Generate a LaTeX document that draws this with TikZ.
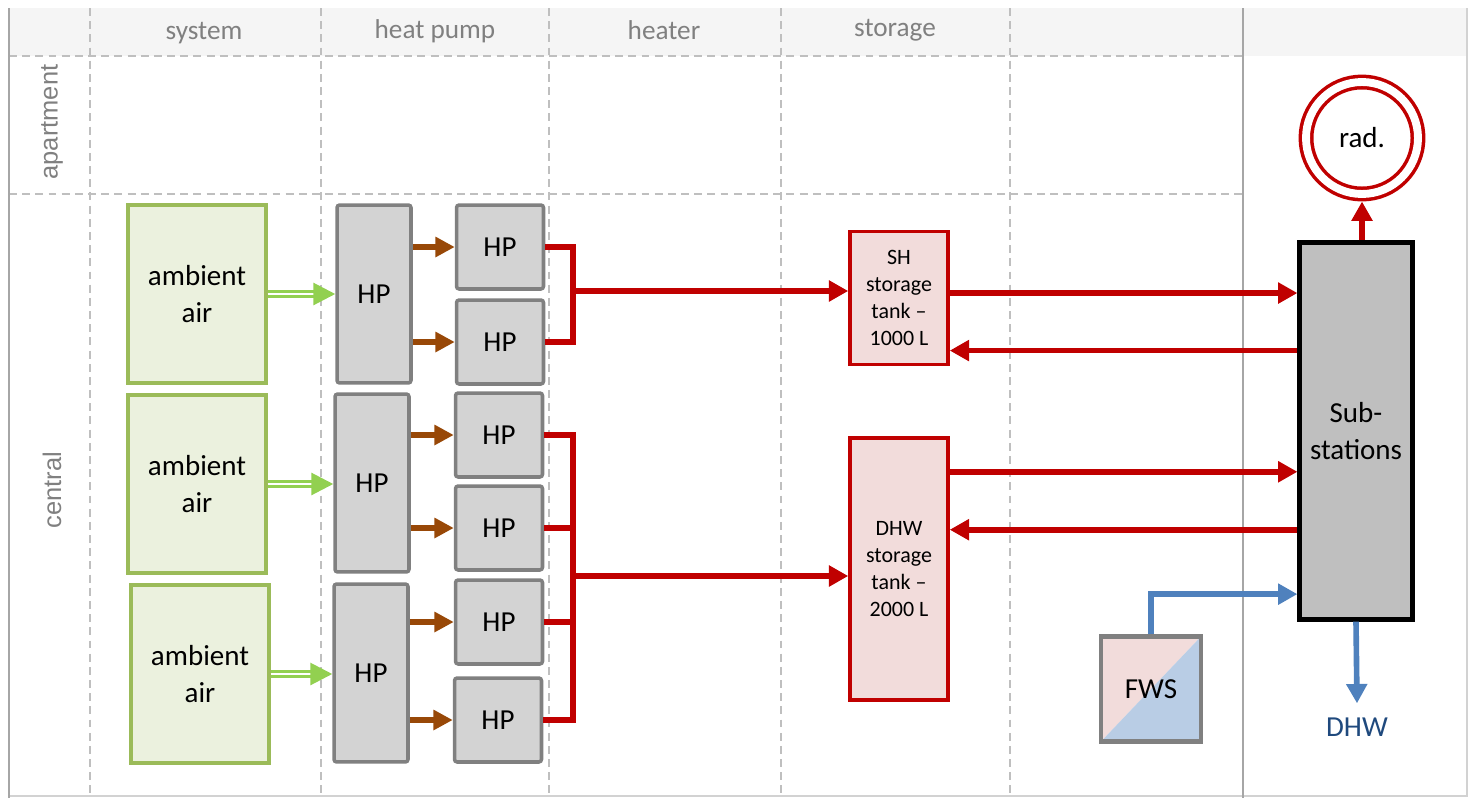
\documentclass[tikz,border=0pt]{standalone}
\usepackage{fontspec}
\setmainfont{Carlito}
\newfontfamily\rowfont{Liberation Sans}
\usetikzlibrary{arrows.meta,calc}

\definecolor{hdrgray}{HTML}{F5F5F5}
\definecolor{gridgray}{HTML}{BFBFBF}
\definecolor{framegray}{HTML}{A6A6A6}
\definecolor{txtgray}{HTML}{808080}
\definecolor{airgreen}{HTML}{9BBB59}
\definecolor{airfill}{HTML}{EBF1DE}
\definecolor{arrgreen}{HTML}{92D050}
\definecolor{hpfill}{HTML}{D3D3D3}
\definecolor{hpline}{HTML}{808080}
\definecolor{hpbrown}{HTML}{984807}
\definecolor{hotred}{HTML}{C00000}
\definecolor{tankfill}{HTML}{F2DCDB}
\definecolor{subfill}{HTML}{BFBFBF}
\definecolor{coldblue}{HTML}{4F81BD}
\definecolor{fwsblue}{HTML}{B9CDE5}
\definecolor{dhwtext}{HTML}{1F497D}

\begin{document}
\begin{tikzpicture}[x=0.02cm,y=-0.02cm,
  font=\fontsize{16.5}{21}\selectfont,
  grid/.style={gridgray,line width=0.6pt,dash pattern=on 4.5pt off 3pt},
  frame/.style={framegray,line width=1.6pt},
  hdr/.style={txtgray,font=\fontsize{15.5}{18}\selectfont},
  row/.style={txtgray,rotate=90,font=\rowfont\fontsize{14.5}{17}\selectfont},
  air/.style={draw=airgreen,fill=airfill,line width=2pt,minimum width=2.76cm,
    minimum height=3.56cm,align=center},
  hpbig/.style={draw=hpline,fill=hpfill,line width=2pt,rounded corners=1.5pt,
    minimum width=1.48cm,minimum height=3.56cm},
  hpsmall/.style={hpbig,minimum width=1.74cm,minimum height=1.68cm},
  tank/.style={draw=hotred,fill=tankfill,line width=2pt,minimum width=1.96cm,
    align=center,font=\fontsize{12.5}{15.4}\selectfont},
  subbox/.style={draw=black,fill=subfill,line width=2.4pt,minimum width=2.26cm,
    minimum height=7.54cm,align=center},
  radnode/.style={circle,draw=hotred,line width=2pt,double=white,
    double distance=4.5pt,minimum size=2.24cm,inner sep=0pt,outer sep=4.3pt},
  fwsbox/.style={draw=hpline,line width=2.3pt,minimum width=2cm,minimum height=2.1cm,
    path picture={
      \fill[tankfill] (path picture bounding box.south west)
        -- (path picture bounding box.north west)
        -- (path picture bounding box.north east) -- cycle;
      \fill[fwsblue] (path picture bounding box.south west)
        -- (path picture bounding box.south east)
        -- (path picture bounding box.north east) -- cycle;}},
  dhwlbl/.style={dhwtext,inner sep=8pt},
  greenarr/.style={arrgreen,double=white,double distance=1.3pt,line width=1.7pt,
    -{Triangle[length=12.5pt,width=12.5pt]}},
  brownarr/.style={hpbrown,line width=3.2pt,-{Triangle[length=11pt,width=11pt]}},
  redline/.style={hotred,line width=3.3pt},
  redarr/.style={redline,-{Triangle[length=11pt,width=11.5pt]}},
  bluearr/.style={coldblue,line width=3.2pt,-{Triangle[length=11pt,width=11.5pt]}}]

  \useasboundingbox (0,0) rectangle (1471,798);

  \fill[hdrgray] (9,8) rectangle (1467,56);
  \draw[gridgray!70,line width=0.8pt] (1467,8) -- (1467,796) -- (9,796);

  \foreach \x in {90,321,549,781,1010}
    \draw[grid] (\x,8) -- (\x,798);
  \foreach \y in {56,194}
    \draw[grid] (9,\y) -- (1243,\y);

  \draw[frame] (9,8) -- (9,798);
  \draw[frame] (1243,8) -- (1243,798);

  \node[hdr] (hsys) at (204,33) {system};
  \node[hdr] (hhp) at (435,31) {heat pump};
  \node[hdr] (hheat) at (664,30) {heater};
  \node[hdr] (hsto) at (895,30) {storage};

  \node[row] (rapt) at (52,122) {apartment};
  \node[row] (rcen) at (52,490) {central};

  \foreach \n/\x/\y in {1/197/294,2/197/484,3/200/674}
    \node[air] (air\n) at (\x,\y) {ambient\\air};

  \foreach \h/\x/\y in {A/374/294,B/372/483,C/371/673}
    \node[hpbig] (hp\h) at (\x,\y) {HP};

  \foreach \s/\x/\y in {1/500/247,2/500/342,3/499/435,4/499/528,5/499/622,6/498/720}
    \node[hpsmall] (hp\s) at (\x,\y) {HP};

  \node[tank,minimum height=2.66cm] (sh) at (899,298) {SH\\storage\\tank --\\1000 L};
  \node[tank,minimum height=5.24cm] (dhw) at (899,569) {DHW\\storage\\tank --\\2000 L};

  \node[subbox] (subst) at (1356,431) {Sub-\\stations};
  \node[radnode] (rad) at (1362,138) {rad.};
  \node[fwsbox] (fws) at (1151,689) {FWS};
  \node[dhwlbl] (dhwout) at (1357,727) {DHW};

  \foreach \n/\h in {1/A,2/B,3/C}
    \draw[greenarr] (air\n.east) -- (air\n.east -| hp\h.west);

  \foreach \h/\s in {A/1,A/2,B/3,B/4,C/5,C/6}
    \draw[brownarr] (hp\s.west -| hp\h.east) -- (hp\s.west);

  \coordinate (m1) at (573,291);
  \coordinate (m2) at (573,576);
  \draw[redline] (hp1.east) -| (m1) |- (hp2.east);
  \draw[redline] (hp3.east) -| (m2) |- (hp6.east);
  \foreach \s in {4,5}
    \draw[redline] (hp\s.east) -- (hp\s.east -| m2);
  \draw[redarr] (m1) -- (m1 -| sh.west);
  \draw[redarr] (m2) -- (m2 -| dhw.west);

  \foreach \c/\f in {s1/0.138,s2/0.289,s3/0.607,s4/0.759,s5/0.928}
    \coordinate (\c) at ($(subst.north west)!\f!(subst.south west)$);

  \draw[redarr] (s1 -| sh.east) -- (s1);
  \draw[redarr] (s2) -- (s2 -| sh.east);
  \draw[redarr] (s3 -| dhw.east) -- (s3);
  \draw[redarr] (s4) -- (s4 -| dhw.east);
  \draw[redarr] (subst.north -| rad.south) -- (rad.south);

  \draw[bluearr] (fws.north) |- (s5);
  \draw[bluearr] (subst.south) -- (dhwout.north);
\end{tikzpicture}
\end{document}
